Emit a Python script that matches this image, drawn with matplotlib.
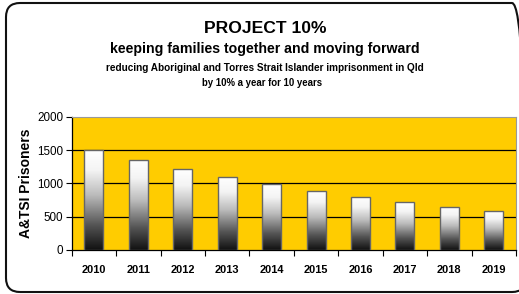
import matplotlib
matplotlib.use("Agg")
import matplotlib.pyplot as plt
import numpy as np
from matplotlib.patches import FancyBboxPatch, Rectangle
from matplotlib.colors import LinearSegmentedColormap

years = ["2010", "2011", "2012", "2013", "2014", "2015", "2016", "2017", "2018", "2019"]
prisoners = [1500, 1350, 1215, 1094, 984, 886, 797, 717, 646, 581]
yticks = [0, 500, 1000, 1500, 2000]

title = "PROJECT 10%"
sub1 = "keeping families together and moving forward"
sub2 = "reducing Aboriginal and Torres Strait Islander imprisonment in Qld"
sub3 = "by 10% a year for 10 years"
ylabel = "A&TSI Prisoners"

plt.rcParams['font.family'] = ['Liberation Sans', 'DejaVu Sans']

W, H = 519, 294
fig = plt.figure(figsize=(W / 100, H / 100), dpi=100)
fig.patch.set_facecolor("white")

# outer rounded frame (pixel coords)
frame = FancyBboxPatch((6, 2), 520, 289, boxstyle="round,pad=0,rounding_size=14",
                       transform=None, facecolor="none", edgecolor="#111111",
                       linewidth=1.5, zorder=0)
fig.patches.append(frame)

def fx(px):
    return px / W

def fy(py):
    return 1 - py / H

cx = fx(265)
fig.text(cx, fy(33), title, ha="center", va="baseline", fontsize=12.6, fontweight="bold")
fig.text(cx, fy(53), sub1, ha="center", va="baseline", fontsize=10.2, fontweight="bold")
fig.text(cx, fy(71), sub2, ha="center", va="baseline", fontsize=7.2, fontweight="bold")
fig.text(cx - fx(3), fy(86.5), sub3, ha="center", va="baseline", fontsize=6.9, fontweight="bold")

left, right, top, bottom = 71.7, 516, 116.7, 250
ax = fig.add_axes([fx(left), fy(bottom), fx(right) - fx(left), fy(top) - fy(bottom)])
ax.set_facecolor("#FFCC00")

n = len(years)
x = np.arange(n)
ax.set_xlim(-0.5, n - 0.5)
ax.set_ylim(0, 2000)

for g in [500, 1000, 1500]:
    ax.axhline(g, color="black", linewidth=0.9, zorder=1)

cmap = LinearSegmentedColormap.from_list("bar", [(0.0, "#111111"), (0.25, "#555555"),
                                                  (0.55, "#bbbbbb"), (0.8, "#f4f4f4"),
                                                  (1.0, "#ffffff")])
grad = np.linspace(0, 1, 256).reshape(-1, 1)
bw = 0.43
for xi, v in zip(x, prisoners):
    im = ax.imshow(grad, cmap=cmap, origin="lower", aspect="auto",
                   extent=(xi - bw / 2, xi + bw / 2, 0, v), zorder=2)
    rect = Rectangle((xi - bw / 2, 0), bw, v, facecolor="none",
                     edgecolor="#666666", linewidth=1.0, zorder=3)
    ax.add_patch(rect)
    im.set_clip_path(rect)

ax.set_yticks(yticks)
ax.set_yticklabels([str(t) for t in yticks], fontsize=8.4)
ax.set_xticks(x)
ax.set_xticklabels(years, fontsize=7.9, fontweight="bold")
ax.set_xticks(np.arange(-0.5, n, 1.0), minor=True)
ax.tick_params(axis="x", which="major", length=0, pad=11)
ax.tick_params(axis="x", which="minor", length=4, width=0.8, direction="out")
ax.tick_params(axis="y", length=4, width=0.8, direction="out", pad=2)

ax.set_ylabel(ylabel, fontsize=10, fontweight="bold", labelpad=3)

for s in ["left", "bottom"]:
    ax.spines[s].set_color("black")
    ax.spines[s].set_linewidth(0.9)
for s in ["top", "right"]:
    ax.spines[s].set_color("#999999")
    ax.spines[s].set_linewidth(0.8)

fig.savefig("out.png", dpi=100)
